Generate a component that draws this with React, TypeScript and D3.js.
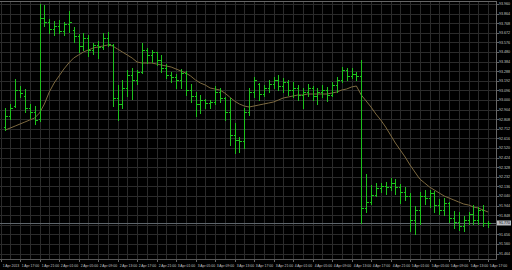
import React from 'react';
import * as d3 from 'd3';

const opens = [92.73,92.84,92.94,93.10,93.04,92.92,92.88,92.81,93.82,93.78,93.71,93.74,93.69,93.76,93.70,93.64,93.54,93.62,93.50,93.55,93.53,93.62,93.55,93.02,92.96,93.12,93.25,93.20,93.28,93.50,93.45,93.48,93.40,93.32,93.25,93.23,93.20,93.27,93.10,93.04,92.96,93.00,92.97,92.98,93.08,93.02,92.88,92.65,92.60,92.59,92.88,93.08,93.16,93.06,93.12,93.16,93.20,93.14,93.18,93.10,93.12,93.05,93.08,93.12,93.04,93.08,93.10,93.05,93.15,93.20,93.30,93.24,93.26,93.24,91.92,91.98,92.05,92.12,92.14,92.13,92.17,92.13,92.08,92.04,91.80,91.90,92.04,92.02,92.07,91.95,91.90,91.97,91.82,91.78,91.74,91.80,91.86,91.80,91.90,91.77];
const highs = [92.92,92.96,93.21,93.14,93.11,92.96,92.94,93.96,93.95,93.81,93.79,93.80,93.78,93.89,93.73,93.66,93.67,93.65,93.57,93.59,93.67,93.68,93.56,93.15,93.20,93.30,93.32,93.30,93.57,93.52,93.50,93.48,93.45,93.36,93.28,93.26,93.31,93.29,93.16,93.08,93.05,93.01,93.00,93.14,93.12,93.03,93.02,92.77,92.63,92.92,93.12,93.23,93.17,93.15,93.20,93.23,93.25,93.22,93.20,93.18,93.15,93.12,93.16,93.14,93.12,93.15,93.13,93.18,93.23,93.33,93.32,93.32,93.28,93.40,92.26,92.15,92.17,92.17,92.18,92.22,92.21,92.16,92.13,92.07,91.94,92.08,92.10,92.10,92.09,92.01,92.02,91.98,91.89,91.88,91.84,91.88,91.95,91.93,91.95,91.79];
const lows = [92.70,92.81,92.93,93.03,92.88,92.82,92.76,92.79,93.74,93.67,93.65,93.67,93.65,93.68,93.58,93.48,93.50,93.44,93.46,93.42,93.51,93.54,92.94,92.80,92.92,93.04,93.01,93.16,93.27,93.37,93.38,93.35,93.28,93.22,93.18,93.12,93.12,93.05,92.98,92.84,92.87,92.92,92.92,92.96,92.98,92.80,92.55,92.47,92.48,92.52,92.85,93.03,93.00,93.04,93.08,93.12,93.10,93.08,93.05,93.03,93.00,92.92,93.04,93.00,92.96,93.03,92.99,93.04,93.08,93.18,93.20,93.22,93.20,91.77,91.88,91.96,92.04,92.08,92.06,92.10,92.06,91.97,92.00,91.69,91.66,91.76,91.96,91.93,91.88,91.86,91.85,91.78,91.72,91.70,91.69,91.76,91.76,91.76,91.74,91.73];
const closes = [92.84,92.92,93.10,93.07,92.92,92.88,92.80,93.82,93.78,93.71,93.74,93.69,93.76,93.78,93.64,93.54,93.62,93.50,93.55,93.53,93.62,93.56,93.02,92.96,93.12,93.25,93.20,93.28,93.50,93.45,93.48,93.40,93.32,93.25,93.23,93.20,93.27,93.10,93.04,92.96,93.00,92.97,92.98,93.08,93.02,92.88,92.65,92.60,92.59,92.88,93.08,93.20,93.06,93.12,93.16,93.20,93.14,93.18,93.10,93.12,93.05,93.08,93.12,93.04,93.08,93.10,93.05,93.15,93.20,93.30,93.24,93.26,93.24,91.92,91.98,92.05,92.12,92.14,92.13,92.17,92.13,92.08,92.04,91.80,91.90,92.04,92.02,92.07,91.95,91.90,91.97,91.82,91.78,91.74,91.80,91.86,91.80,91.90,91.77,91.77];
const maValues = [92.70,92.72,92.74,92.76,92.78,92.80,92.82,92.87,92.96,93.08,93.17,93.24,93.31,93.37,93.42,93.45,93.48,93.50,93.52,93.53,93.54,93.55,93.54,93.51,93.48,93.45,93.42,93.38,93.37,93.37,93.37,93.36,93.35,93.34,93.33,93.31,93.29,93.27,93.24,93.20,93.17,93.15,93.12,93.11,93.10,93.07,93.03,92.99,92.96,92.94,92.93,92.94,92.95,92.96,92.97,92.98,93.00,93.02,93.03,93.04,93.05,93.05,93.06,93.06,93.06,93.06,93.06,93.07,93.08,93.10,93.11,93.13,93.14,93.05,92.99,92.93,92.86,92.80,92.73,92.65,92.57,92.50,92.43,92.35,92.28,92.21,92.17,92.13,92.10,92.07,92.04,92.02,92.00,91.98,91.96,91.95,91.93,91.92,91.90,91.88];
const timeLabels = ["1 Apr 2013","1 Apr 17:00","1 Apr 21:00","2 Apr 01:00","2 Apr 05:00","2 Apr 09:00","2 Apr 13:00","2 Apr 17:00","2 Apr 21:00","3 Apr 01:00","3 Apr 05:00","3 Apr 09:00","3 Apr 13:00","3 Apr 17:00","3 Apr 21:00","4 Apr 01:00","4 Apr 05:00","4 Apr 09:00","4 Apr 13:00","4 Apr 17:00","4 Apr 21:00","5 Apr 01:00","5 Apr 05:00","5 Apr 09:00","5 Apr 13:00","5 Apr 17:00"];
const priceTicks = [93.960,93.864,93.768,93.672,93.576,93.480,93.384,93.288,93.192,93.096,93.000,92.904,92.808,92.712,92.616,92.520,92.424,92.328,92.232,92.136,92.040,91.944,91.848,91.752,91.656,91.560,91.464];
const lastPrice = 91.77;

export default function App() {
  const W = 512, H = 270;
  const plotRight = 496.5, plotTop = 1.5, plotBottom = 259.5;
  const n = closes.length;
  const x = d3.scaleLinear().domain([0, n - 1]).range([5.4, 488]);
  const y = d3.scaleLinear().domain([94, 91]).range([0, 300]);
  const cx = (i: number) => Math.round(x(i)) + 0.5;
  const green = '#1cc21c';
  const grid = '#2b2b2b';

  const vGrid: number[] = [];
  for (let m = 0; m <= 50; m++) vGrid.push(Math.round(x(2 * m - 1)) + 0.5);

  const maLine = d3.line<number>().x((_, i) => x(i)).y(d => y(d)).curve(d3.curveLinear)(maValues) || '';

  return (
    <svg width={W} height={H} style={{ position: 'fixed', left: 0, top: 0, background: '#000' }}>
      <rect x={0} y={0} width={W} height={H} fill="#000" />
      <g shapeRendering="crispEdges">
        {vGrid.filter(v => v < plotRight).map((v, i) => (
          <line key={'v' + i} x1={v} x2={v} y1={plotTop} y2={plotBottom} stroke={grid} strokeWidth={1} />
        ))}
        {priceTicks.map((p, i) => {
          const yy = Math.round(y(p)) + 0.5;
          return <line key={'h' + i} x1={0} x2={plotRight} y1={yy} y2={yy} stroke={grid} strokeWidth={1} />;
        })}
        <line x1={0} x2={plotRight} y1={Math.round(y(lastPrice)) + 0.5} y2={Math.round(y(lastPrice)) + 0.5} stroke="#5f666c" strokeWidth={1} />
        <line x1={0} x2={plotRight} y1={plotTop} y2={plotTop} stroke="#666" />
        <line x1={plotRight} x2={plotRight} y1={plotTop} y2={plotBottom} stroke="#666" />
        <line x1={0} x2={plotRight} y1={plotBottom} y2={plotBottom} stroke="#555" />
      </g>
      <path d={maLine} fill="none" stroke="#7e6a40" strokeWidth={1} />
      <g shapeRendering="crispEdges" stroke={green} strokeWidth={1}>
        {closes.map((c, i) => {
          const xx = cx(i);
          const yo = Math.round(y(opens[i])) + 0.5;
          const yc = Math.round(y(c)) + 0.5;
          return (
            <g key={'b' + i}>
              <line x1={xx} x2={xx} y1={Math.round(y(highs[i]))} y2={Math.round(y(lows[i])) + 1} />
              <line x1={xx - 2} x2={xx} y1={yo} y2={yo} />
              <line x1={xx} x2={xx + 2} y1={yc} y2={yc} />
            </g>
          );
        })}
      </g>
      <g fontFamily="Liberation Sans, Arial, sans-serif" fontSize={3.6} fill="#c8c8c8">
        {priceTicks.map((p, i) => {
          const yy = y(p);
          if (Math.abs(yy - y(lastPrice)) < 6) return null;
          return (
            <g key={'pt' + i}>
              <line x1={plotRight} x2={plotRight + 2} y1={Math.round(yy) + 0.5} y2={Math.round(yy) + 0.5} stroke="#666" shapeRendering="crispEdges" />
              <text x={499} y={yy + 1.3}>{p.toFixed(3)}</text>
            </g>
          );
        })}
        <rect x={497} y={y(lastPrice) - 2.5} width={14} height={5} fill="#b8bcc0" />
        <text x={499} y={y(lastPrice) + 1.3} fill="#000">{lastPrice.toFixed(3)}</text>
        {timeLabels.map((t, k) => {
          const lx = Math.round(x(4 * k - 1)) + 0.5;
          return (
            <g key={'tl' + k}>
              <line x1={lx} x2={lx} y1={plotBottom} y2={plotBottom + 2} stroke="#666" shapeRendering="crispEdges" />
              <text x={lx + 1.2} y={266.5} fontSize={3.4}>{t}</text>
            </g>
          );
        })}
      </g>
    </svg>
  );
}
